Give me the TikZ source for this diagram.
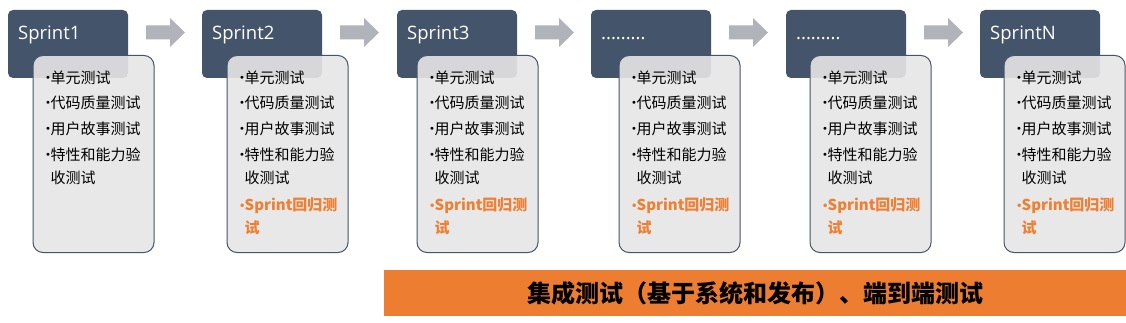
\documentclass[tikz,border=0pt]{standalone}
\usepackage{fontspec}
\setmainfont{Noto Sans CJK SC}
\newfontfamily\hdfont{Open Sans}
\newfontfamily\bulfont{DejaVu Sans}
\usetikzlibrary{calc}
\definecolor{slate}{HTML}{44546A}
\definecolor{lightfill}{HTML}{E7E6E6}
\definecolor{arrowgray}{HTML}{B0B3B9}
\definecolor{orangebar}{HTML}{ED7D31}
\definecolor{orangetxt}{HTML}{EE7F33}
\newcommand{\bul}{\makebox[5.5pt][l]{\raisebox{1.5pt}{\bulfont\fontsize{10}{10}\selectfont •}}}
\newcommand{\ninedots}{.........}
\tikzset{
  darkbox/.style={fill=slate, rounded corners=5pt, minimum width=120pt, minimum height=68pt, inner sep=0pt, outer sep=0pt, anchor=north west},
  lightbox/.style={draw=slate, line width=1pt, fill=lightfill, fill opacity=0.9, rounded corners=10pt, minimum width=121pt, minimum height=197pt, inner sep=0pt, outer sep=0pt, anchor=north west},
  titletext/.style={text=white, font=\hdfont\fontsize{18.5}{20}\selectfont, inner sep=0pt, anchor=base west},
  listtext/.style={text=black, font=\fontsize{15}{18}\selectfont, inner sep=0pt, anchor=base west},
  regtext/.style={text=orangetxt, font=\bfseries\fontsize{15}{18}\selectfont, inner sep=0pt, anchor=base west},
  blockarrow/.style={fill=arrowgray},
  bar/.style={fill=orangebar, minimum width=742pt, minimum height=46pt, inner sep=0pt, outer sep=0pt, anchor=north west, font=\bfseries\fontsize{24}{26}\selectfont, text=black}
}
\begin{document}
\begin{tikzpicture}[x=1pt,y=-1pt]
\useasboundingbox (0,0) rectangle (1126,323);
\fill[white] (0,0) rectangle (1126,323);
\foreach \i/\dl/\ll/\title in {1/8/33/Sprint1, 2/202/227/Sprint2, 3/397/417/Sprint3, 4/591/619/\ninedots, 5/786/810/\ninedots, 6/980/1004/SprintN}{
  \node[darkbox] (d\i) at (\dl,10) {};
  \node[titletext] (h\i) at (\dl+10,39.5) {\title};
  \node[lightbox] (l\i) at (\ll,55.5) {};
  \node[listtext] (ta\i) at (\ll+12,83.5) {\bul 单元测试};
  \node[listtext] (tb\i) at (\ll+12,108.5) {\bul 代码质量测试};
  \node[listtext] (tc\i) at (\ll+12,134.5) {\bul 用户故事测试};
  \node[listtext] (td\i) at (\ll+12,160.5) {\bul 特性和能力验};
  \node[listtext] (te\i) at (\ll+12,183.5) {\phantom{\bul}收测试};
  \ifnum\i>1
    \node[regtext] (tf\i) at (\ll+12,210.5) {\bul Sprint回归测};
    \node[regtext] (tg\i) at (\ll+12,233.5) {\phantom{\bul}试};
  \fi
}
\foreach \i in {1,...,5}{
  \fill[blockarrow] ($(d\i.north east)+(18,15.5)$) -- ++(24,0) -- ++(0,-7.5) -- ++(15,14.5) -- ++(-15,14.5) -- ++(0,-7.5) -- ++(-24,0) -- cycle;
}
\node[bar] (integ) at (384,270) {集成测试（基于系统和发布）、端到端测试};
\end{tikzpicture}
\end{document}
